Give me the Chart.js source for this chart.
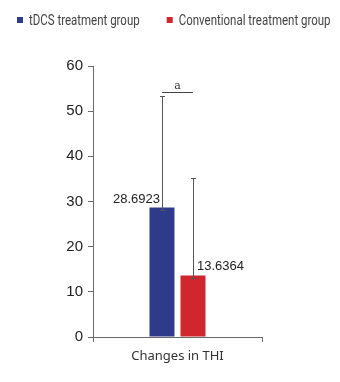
<!DOCTYPE html>
<html>
<head>
<meta charset="utf-8">
<script src="https://cdn.jsdelivr.net/npm/chart.js@4.4.1/dist/chart.umd.min.js"></script>
<style>
  html, body { margin: 0; padding: 0; background: #fff; }
  #wrap { width: 340px; height: 382px; }
</style>
</head>
<body>
<div id="wrap"><canvas id="chart"></canvas></div>
<script>
// Data
const categories = ['Changes in THI'];
const seriesNames = ['tDCS treatment group', 'Conventional treatment group'];
const tdcsValues = [28.6923];
const conventionalValues = [13.6364];
const tdcsErrorTop = [53.3];
const conventionalErrorTop = [35.1];
const valueLabels = ['28.6923', '13.6364'];
const significanceLevel = [54.2];
const significanceMark = 'a';
const yTicks = [0, 10, 20, 30, 40, 50, 60];

const blue = '#2e3a8a';
const red = '#d0262d';
const axisGray = '#6b6b6b';

// Condensed legend along the top of the canvas
const topLegend = {
    id: 'topLegend',
    afterDraw(chart) {
        const ctx = chart.ctx;
        const squeeze = 0.82;
        const box = 6, gapText = 6, gapItem = 27;
        ctx.save();
        ctx.font = '14px Roboto, sans-serif';
        ctx.textBaseline = 'middle';
        const widths = seriesNames.map(s => ctx.measureText(s).width * squeeze);
        const total = widths.reduce((a, w) => a + box + gapText + w, 0) + gapItem * (seriesNames.length - 1);
        let x = Math.round((chart.width - total) / 2) + 4;
        const yc = 20;
        chart.data.datasets.forEach((ds, i) => {
            ctx.fillStyle = ds.backgroundColor;
            ctx.fillRect(x, yc - 3, box, box);
            x += box + gapText;
            ctx.save();
            ctx.translate(x, yc + 1);
            ctx.scale(squeeze, 1);
            ctx.fillStyle = '#444';
            ctx.fillText(seriesNames[i], 0, 0);
            ctx.restore();
            x += widths[i] + gapItem;
        });
        ctx.restore();
    }
};

// Error bars, value labels and the "a" bracket
const extras = {
    id: 'extras',
    afterDatasetsDraw(chart) {
        const ctx = chart.ctx;
        const y = chart.scales.y;
        const tops = [tdcsErrorTop[0], conventionalErrorTop[0]];
        const bars = [chart.getDatasetMeta(0).data[0], chart.getDatasetMeta(1).data[0]];
        ctx.save();
        ctx.strokeStyle = '#555';
        ctx.lineWidth = 1;
        bars.forEach((bar, i) => {
            const x = Math.round(bar.x) + 0.5;
            const yTop = Math.round(y.getPixelForValue(tops[i])) + 0.5;
            const yLow = Math.round(bar.y) + 3.5;
            ctx.beginPath();
            ctx.moveTo(x, yTop);
            ctx.lineTo(x, yLow);
            ctx.moveTo(x - 2.5, yTop);
            ctx.lineTo(x + 2.5, yTop);
            ctx.moveTo(x - 2.5, yLow);
            ctx.lineTo(x + 2.5, yLow);
            ctx.stroke();
        });

        // value labels
        ctx.fillStyle = '#222';
        ctx.font = '13px "Liberation Sans", Arial, sans-serif';
        ctx.textBaseline = 'middle';
        ctx.textAlign = 'right';
        ctx.fillText(valueLabels[0], bars[0].x - 2, bars[0].y - 8);
        ctx.textAlign = 'left';
        ctx.fillText(valueLabels[1], bars[1].x + 4, bars[1].y - 9);

        // significance bracket
        const yb = Math.round(y.getPixelForValue(significanceLevel[0])) + 0.5;
        ctx.strokeStyle = '#444';
        ctx.beginPath();
        ctx.moveTo(bars[0].x, yb);
        ctx.lineTo(bars[1].x, yb);
        ctx.stroke();
        ctx.font = '11px "DejaVu Serif", serif';
        ctx.textAlign = 'center';
        ctx.textBaseline = 'bottom';
        ctx.fillStyle = '#333';
        ctx.fillText(significanceMark, (bars[0].x + bars[1].x) / 2, yb - 1);
        ctx.restore();
    }
};

new Chart(document.getElementById('chart'), {
    type: 'bar',
    data: {
        labels: categories,
        datasets: [
            { label: seriesNames[0], data: tdcsValues, backgroundColor: blue },
            { label: seriesNames[1], data: conventionalValues, backgroundColor: red }
        ]
    },
    options: {
        responsive: true,
        maintainAspectRatio: false,
        animation: false,
        categoryPercentage: 0.367,
        barPercentage: 0.806,
        layout: { padding: { left: 0, right: 78, top: 66, bottom: 0 } },
        plugins: {
            legend: { display: false },
            tooltip: { enabled: false }
        },
        scales: {
            x: {
                offset: true,
                grid: { offset: true, drawOnChartArea: false, drawTicks: true, tickLength: 5, color: axisGray },
                border: { color: axisGray },
                ticks: {
                    color: '#333',
                    padding: 6,
                    font: { family: '"Noto Sans", sans-serif', size: 13 }
                },
                afterFit(scale) { scale.height = 45; }
            },
            y: {
                min: 0,
                max: 60,
                afterBuildTicks(scale) { scale.ticks = yTicks.map(v => ({ value: v })); },
                grid: { drawOnChartArea: false, drawTicks: true, tickLength: 5, color: axisGray },
                border: { color: axisGray },
                ticks: {
                    color: '#222',
                    padding: 5,
                    font: { family: '"Liberation Sans", Arial, sans-serif', size: 15 }
                },
                afterFit(scale) { scale.width = 93; }
            }
        }
    },
    plugins: [topLegend, extras]
});
</script>
</body>
</html>
